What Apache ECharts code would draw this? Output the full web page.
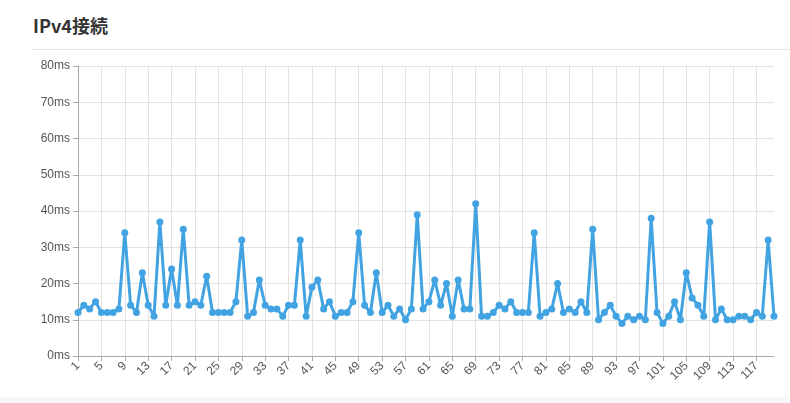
<!DOCTYPE html>
<html>
<head>
<meta charset="utf-8">
<script src="https://cdn.jsdelivr.net/npm/echarts@6/dist/echarts.min.js"></script>
<style>
  html, body { margin: 0; padding: 0; background: #fff; }
  body { width: 790px; height: 403px; overflow: hidden; position: relative; font-family: "Noto Sans CJK JP", "Noto Sans", sans-serif; }
  .header {
    position: absolute; left: 33px; right: 0; top: 0; height: 49px;
    border-bottom: 1px solid #e3e3e3;
  }
  .header-title {
    position: absolute; left: 0; top: 12px;
    font-size: 18px; font-weight: bold; color: #333;
  }
  .footer { position: absolute; left: 0; right: 0; bottom: 0; height: 6px; background: #f7f7f7; }
  #chart { position: absolute; left: 0; top: 0; width: 790px; height: 403px; }
</style>
</head>
<body>
<div class="header"><span class="header-title">IPv4接続</span></div>
<div class="footer"></div>
<div id="chart"></div>
<script>
// 接続時間 (ms)
const pingValues = [
  12, 14, 13, 15, 12, 12, 12, 13, 34, 14,
  12, 23, 14, 11, 37, 14, 24, 14, 35, 14,
  15, 14, 22, 12, 12, 12, 12, 15, 32, 11,
  12, 21, 14, 13, 13, 11, 14, 14, 32, 11,
  19, 21, 13, 15, 11, 12, 12, 15, 34, 14,
  12, 23, 12, 14, 11, 13, 10, 13, 39, 13,
  15, 21, 14, 20, 11, 21, 13, 13, 42, 11,
  11, 12, 14, 13, 15, 12, 12, 12, 34, 11,
  12, 13, 20, 12, 13, 12, 15, 12, 35, 10,
  12, 14, 11, 9, 11, 10, 11, 10, 38, 12,
  9, 11, 15, 10, 23, 16, 14, 11, 37, 10,
  13, 10, 10, 11, 11, 10, 12, 11, 32, 11
]
const categories = pingValues.map((_, i) => String(i + 1))

const chart = echarts.init(document.getElementById('chart'))
chart.setOption({
  animation: false,
  grid: {
    left: 78,
    right: 16,
    top: 66,
    bottom: 47
  },
  xAxis: {
    type: 'category',
    data: categories,
    boundaryGap: false,
    axisLine: { lineStyle: { color: '#aaa' } },
    axisTick: { show: true, interval: 3, lineStyle: { color: '#aaa' } },
    axisLabel: {
      interval: 3,
      rotate: 45,
      color: '#555',
      fontSize: 12,
      fontFamily: 'Liberation Sans'
    },
    splitLine: {
      show: true,
      interval: 3,
      lineStyle: { color: '#e2e2e2' }
    }
  },
  yAxis: {
    type: 'value',
    min: 0,
    max: 80,
    interval: 10,
    axisLine: { show: true, lineStyle: { color: '#aaa' } },
    axisTick: { show: true, lineStyle: { color: '#aaa' } },
    axisLabel: {
      formatter: '{value}ms',
      color: '#555',
      fontSize: 12,
      fontFamily: 'Liberation Sans'
    },
    splitLine: { lineStyle: { color: '#e2e2e2' } }
  },
  series: [
    {
      name: 'IPv4',
      type: 'line',
      data: pingValues,
      symbol: 'circle',
      symbolSize: 7,
      showAllSymbol: true,
      itemStyle: { color: '#41a3e2' },
      lineStyle: { width: 3, color: '#41a3e2' }
    }
  ]
})
</script>
</body>
</html>
